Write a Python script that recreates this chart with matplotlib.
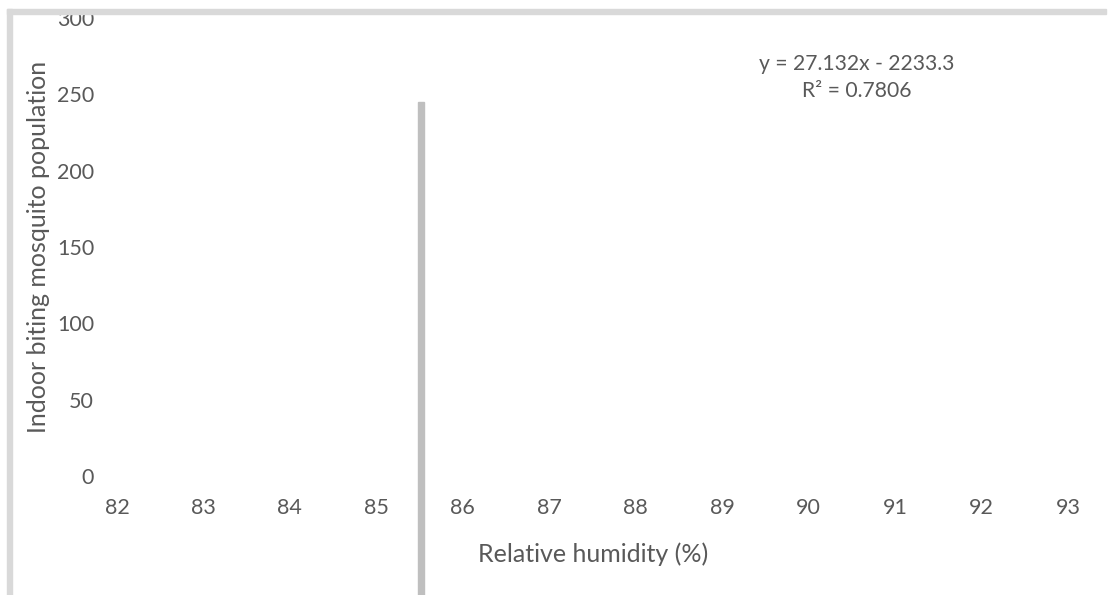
import matplotlib
matplotlib.use("Agg")
import matplotlib.pyplot as plt
from matplotlib.patches import Rectangle

# axis ticks
humidity_ticks = [82, 83, 84, 85, 86, 87, 88, 89, 90, 91, 92, 93]
population_ticks = [0, 50, 100, 150, 200, 250, 300]

# linear trend fit
slope = 27.132
intercept = -2233.3
r_squared = 0.7806

W, H = 1108, 595
plt.rcParams["font.family"] = ["Lato", "DejaVu Sans"]
text_color = "#595959"

fig = plt.figure(figsize=(W / 100, H / 100), dpi=100)
fig.patch.set_facecolor("white")


def px_box(x0, y0, x1, y1):
    # pixel box (top-left origin) -> figure fraction [left, bottom, w, h]
    return [x0 / W, 1 - y1 / H, (x1 - x0) / W, (y1 - y0) / H]


ax = fig.add_axes(px_box(99.7, 18, 1102.6, 476))
ax.set_xlim(81.8, 93.4)
ax.set_ylim(0, 300)
ax.set_xticks(humidity_ticks)
ax.set_yticks(population_ticks)
for s in ax.spines.values():
    s.set_visible(False)
ax.tick_params(length=0, labelsize=15.5, colors=text_color)
ax.tick_params(axis="x", pad=16)
ax.tick_params(axis="y", pad=4)

ax.set_xlabel("Relative humidity (%)", fontsize=18, color=text_color)
ax.xaxis.set_label_coords(0.492, -0.145)
ax.set_ylabel("Indoor biting mosquito population", fontsize=18,
              color=text_color, labelpad=5)

sign = "-" if intercept < 0 else "+"
eq = f"y = {slope}x {sign} {abs(intercept)}\nR² = {r_squared}"
ax.text(0.755, 0.922, eq, transform=ax.transAxes, ha="center", va="top",
        fontsize=15.2, color=text_color, linespacing=1.45, multialignment="center")

# chart frame (top and left edge) and the divider bar
frame = "#d9d9d9"
for box in [px_box(7, 9, 1106, 14), px_box(7, 9, 12, H)]:
    fig.patches.append(Rectangle((box[0], box[1]), box[2], box[3],
                                 transform=fig.transFigure, color=frame,
                                 zorder=10))
box = px_box(417.5, 102, 423.5, H)
fig.patches.append(Rectangle((box[0], box[1]), box[2], box[3],
                             transform=fig.transFigure, color="#bfbfbf",
                             zorder=10))

fig.savefig("out.png", dpi=100)
